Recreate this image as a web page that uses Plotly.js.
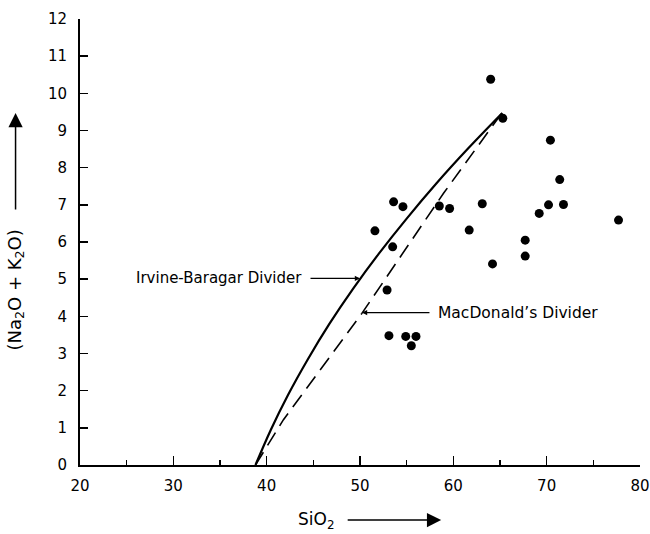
<!DOCTYPE html>
<html>
<head>
<meta charset="utf-8">
<script src="https://cdn.plot.ly/plotly-3.0.1.min.js"></script>
<style>
  html, body { margin: 0; padding: 0; background: #fff; }
  #chart { width: 650px; height: 534px; }
</style>
</head>
<body>
<div id="chart"></div>
<script>
// Sample points
const sio2 = [64.0, 65.3, 70.4, 71.4, 53.6, 54.6, 58.5, 59.6, 63.1, 70.2, 71.8, 69.2,
              51.6, 61.7, 77.7, 53.5, 67.7, 67.7, 52.9, 64.2, 53.1, 54.9, 56.0, 55.5];
const alkalis = [10.38, 9.33, 8.74, 7.68, 7.08, 6.95, 6.97, 6.90, 7.03, 7.00, 7.01, 6.77,
                 6.30, 6.32, 6.59, 5.87, 6.05, 5.62, 4.71, 5.41, 3.48, 3.46, 3.46, 3.21];

// Irvine-Baragar divider (solid curve)
const ibX = [38.8, 40.45, 42.3, 44.4, 46.7, 49.25, 52.0, 55.0, 58.2, 61.6, 65.25];
const ibY = [0, 0.95, 1.89, 2.84, 3.79, 4.74, 5.68, 6.63, 7.58, 8.52, 9.47];

// MacDonald's divider (dashed line)
const mdX = [38.8, 41.8, 50.2, 58.95, 65.2];
const mdY = [0, 1.22, 4.08, 7.31, 9.47];

// Axis ticks
const xTicks = [20, 30, 40, 50, 60, 70, 80];
const yTicks = [0, 1, 2, 3, 4, 5, 6, 7, 8, 9, 10, 11, 12];

const FONT = 'DejaVu Sans, Arial, sans-serif';

const traces = [
  { x: ibX, y: ibY, mode: 'lines', type: 'scatter',
    line: { color: '#000', width: 2.2, shape: 'spline', smoothing: 1 }, hoverinfo: 'skip' },
  { x: mdX, y: mdY, mode: 'lines', type: 'scatter',
    line: { color: '#000', width: 1.6, dash: '15px,8px' }, hoverinfo: 'skip' },
  { x: sio2, y: alkalis, mode: 'markers', type: 'scatter',
    marker: { color: '#000', size: 9 } }
];

const L = 79.5, T = 19, W = 560.5, H = 446;
const px = v => (v - L) / W;          // pixel x -> paper x
const py = v => (T + H - v) / H;      // pixel y -> paper y

const layout = {
  width: 650, height: 534,
  margin: { l: L, r: 650 - L - W, t: T, b: 534 - T - H, pad: 0 },
  paper_bgcolor: '#fff', plot_bgcolor: '#fff',
  showlegend: false,
  font: { family: FONT, color: '#000', size: 15 },
  xaxis: {
    range: [20, 80], tickvals: xTicks, ticktext: xTicks.map(String),
    showline: true, linecolor: '#000', linewidth: 1.6,
    showgrid: false, zeroline: false,
    ticks: 'inside', ticklen: 9, tickwidth: 1.5, tickcolor: '#000',
    minor: { dtick: 5, tick0: 20, ticks: 'inside', ticklen: 5, tickwidth: 1.5, tickcolor: '#000', showgrid: false },
    ticklabelstandoff: 6,
    tickfont: { family: FONT, size: 15, color: '#000' }
  },
  yaxis: {
    range: [0, 12], tickvals: yTicks, ticktext: yTicks.map(String),
    showline: true, linecolor: '#000', linewidth: 2,
    showgrid: false, zeroline: false,
    ticks: 'inside', ticklen: 8, tickwidth: 1.5, tickcolor: '#000',
    ticklabelstandoff: 8,
    tickfont: { family: FONT, size: 15, color: '#000' }
  },
  annotations: [
    // y-axis title and arrow
    { xref: 'paper', yref: 'paper', x: px(15), y: py(290), text: '(Na<sub>2</sub>O + K<sub>2</sub>O)',
      textangle: -90, showarrow: false, xanchor: 'center', yanchor: 'middle',
      font: { family: FONT, size: 18, color: '#000' } },
    { xref: 'paper', yref: 'paper', x: px(15), y: py(113), text: '', showarrow: true,
      ax: 0, ay: 98, arrowhead: 2, arrowsize: 1.9, arrowwidth: 1.5, arrowcolor: '#000' },
    // x-axis title with its arrow
    { xref: 'paper', yref: 'paper', x: px(441), y: py(520), text: 'SiO<sub>2</sub>',
      showarrow: true, ax: -125, ay: 0, borderpad: 13,
      arrowhead: 2, arrowsize: 1.9, arrowwidth: 1.5, arrowcolor: '#000',
      font: { family: FONT, size: 17, color: '#000' } },
    // Irvine-Baragar label with arrow
    { xref: 'x', yref: 'y', x: 50.0, y: 5.02, text: 'Irvine-Baragar Divider',
      showarrow: true, ax: -141, ay: 0, borderpad: 8,
      arrowhead: 2, arrowsize: 0.8, arrowwidth: 1.3, arrowcolor: '#000',
      font: { family: FONT, size: 15, color: '#000' } },
    // MacDonald label with arrow
    { xref: 'x', yref: 'y', x: 50.21, y: 4.1, text: 'MacDonald’s Divider',
      showarrow: true, ax: 156, ay: 0, borderpad: 8,
      arrowhead: 2, arrowsize: 0.8, arrowwidth: 1.3, arrowcolor: '#000',
      font: { family: FONT, size: 15.5, color: '#000' } }
  ]
};

Plotly.newPlot('chart', traces, layout, { staticPlot: true, displayModeBar: false });
</script>
</body>
</html>
